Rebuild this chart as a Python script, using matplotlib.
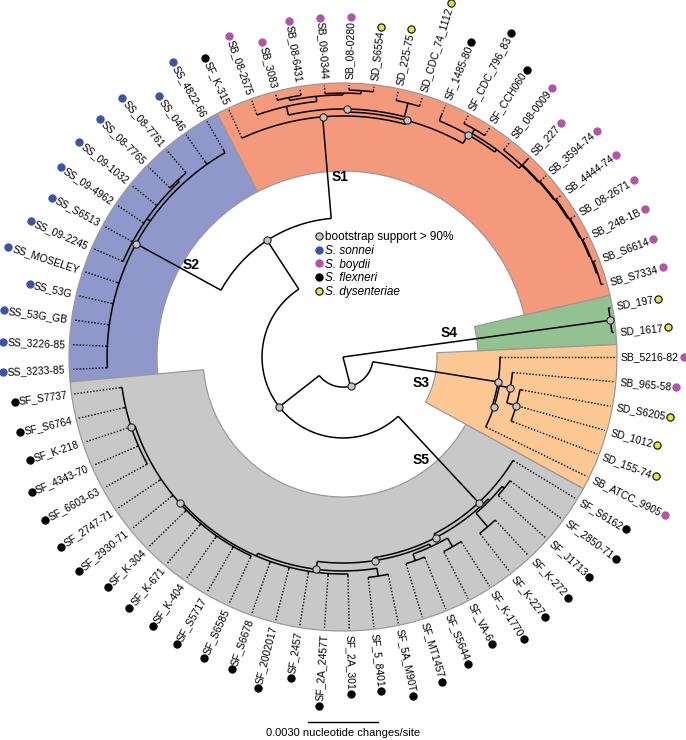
import numpy as np
import matplotlib.pyplot as plt
from matplotlib.patches import Wedge
from matplotlib.lines import Line2D

plt.rcParams['font.family'] = ['Liberation Sans', 'DejaVu Sans']

# tree in newick, branch lengths in 1e-4 nucleotide changes/site
# children are listed anticlockwise, '*' = bootstrap support > 90%
S4_TREE = "(SD_1617:0.6,SD_197:0.6)S4*"

S1_LOWER = ("(((((((((SB_S7334:0.4,SB_S6614:0.4):0.5,SB_248-1B:0.4):0.4,SB_08-2671:0.4):0.4,"
            "SB_4444-74:0.4):0.5,SB_3594-74:0.4):0.4,SB_227:3.4):0.4,SB_08-0009:0.4):1.7,"
            "(SF_CCH060:0.4,SF_CDC_796_83:0.4):2.1):1.3,SF_1485-80:3.0)*:4.3")
S1_UPPER = ("((SD_CDC_74_1112:0.4,SD_225-75:0.4):6.0,((((SD_S6554:0.4,SB_08-0280:0.4):1.3,"
            "SB_09-0344:0.4):0.8,(SB_08-6431:0.4,SB_3083:0.4):1.3):2.2,SB_08-2675:0.4):3.8)*:1.3")
S1_TREE = "((" + S1_LOWER + "," + S1_UPPER + ")*:1.7,SF_K-315:0.4)S1*"

S2_TREE = ("(SS_4822-66:1.3,SS_046:1.3,((SS_08-7761:0.4,SS_08-7765:0.4):0.9,SS_09-1032:0.4,"
           "SS_09-4962:0.4,SS_S6513:0.4,SS_09-2245:0.4):1.7,SS_MOSELEY:0.9,SS_53G:0.6,"
           "SS_53G_GB:0.4,SS_3226-85:0.4,SS_3233-85:0.4)S2*")

S5_LEFT = ("(((SF_S7737:0.9,SF_S6764:0.9,SF_K-218:0.4,SF_4343-70:0.4,SF_6603-63:0.4)*:1.7,"
           "SF_2747-71:0.9,SF_2930-71:0.9,SF_K-304:0.9,SF_K-671:0.9,SF_K-404:0.9,SF_S5717:0.9,"
           "SF_S6585:0.9)*:0.9,SF_S6678:0.9,SF_2002017:0.9,SF_2457:0.9,SF_2A_2457T:0.9,"
           "SF_2A_301:0.9):1.3")
S5_TREE = ("((((" + S5_LEFT + ",(SF_5_8401:0.4,SF_5A_M90T:0.4):3.4)*:3.4,"
           "((SF_MT1457:0.4,SF_S5644:0.4):3.0,(SF_VA-6:0.4,SF_K-1770:0.4):4.3):1.3)*:1.3,"
           "((SF_K-227:0.4,SF_K-272:0.4):7.7,(SF_J1713:0.4,SF_2850-71:0.4):1.2):0.9)*:1.7,"
           "SF_S6162:0.4)S5*")

S3_TREE = ("((SB_ATCC_9905:0.4,((SD_155-74:0.9,SD_1012:0.9,SD_S6205:0.9)*:4.2,"
           "SB_965-58:0.4)*:4.8)*:0.8,SB_5216-82:0.4)S3*")

TREE = ("(" + S4_TREE + ":115.7,(((" + S1_TREE + ":43.7," + S2_TREE + ":41.5)*:24.9,"
        + S5_TREE + ":50.6)*:21.8," + S3_TREE + ":54.4)*:12.9);")

SPECIES_COLOR = {'SS': '#3b55a6', 'SB': '#b155a8', 'SF': '#000000', 'SD': '#e4e43a'}
CLADE_COLOR = {'S1': '#f4997b', 'S2': '#8f97cb', 'S3': '#fdc893', 'S4': '#92c292', 'S5': '#c8c8c8'}
LEGEND_LABELS = ['bootstrap support > 90%', 'S. sonnei', 'S. boydii', 'S. flexneri', 'S. dysenteriae']
SCALE = 30  # 0.0030 changes/site


def parse(s):
    pos = 0

    def node():
        nonlocal pos
        n = {'kids': [], 'len': 0.0}
        if s[pos] == '(':
            pos += 1
            n['kids'].append(node())
            while s[pos] == ',':
                pos += 1
                n['kids'].append(node())
            pos += 1
        start = pos
        while s[pos] not in ':,);':
            pos += 1
        n['name'] = s[start:pos]
        if s[pos] == ':':
            pos += 1
            start = pos
            while s[pos] not in ',);':
                pos += 1
            n['len'] = float(s[start:pos])
        return n
    return node()


root = parse(TREE)
leaves = []


def set_r(n, d):
    n['r'] = d + n['len']
    for c in n['kids']:
        set_r(c, n['r'])
    if not n['kids']:
        leaves.append(n)


set_r(root, 0)
step = 360 / len(leaves)
for i, lf in enumerate(leaves):
    lf['a'] = (i + 1) * step


def set_a(n):
    if n['kids']:
        for c in n['kids']:
            set_a(c)
        n['a'] = (n['kids'][0]['a'] + n['kids'][-1]['a']) / 2


set_a(root)

K = 30 / 70  # data units per pixel
TIP = 272 * K
R_OUT = 274 * K
R_LAB = 278 * K
CLADE_INNER = {'S1': 186 * K, 'S2': 186 * K, 'S3': 94 * K, 'S4': 135 * K, 'S5': 140 * K}
CLADE_LAB = {'S1': -12, 'S2': -8, 'S3': -13, 'S4': 9, 'S5': -13}


def pol(r, a):
    a = np.radians(a)
    return r * np.cos(a), r * np.sin(a)


fig = plt.figure(figsize=(6.86, 7.40), dpi=100)
ax = fig.add_axes([0, 0, 1, 1])
ax.set_xlim(-343 * K, 343 * K)
ax.set_ylim(-383 * K, 357 * K)
ax.axis('off')

clades = {}
parent = {}


def collect(n):
    nm = n['name'].strip('*')
    if nm in CLADE_COLOR:
        clades[nm] = n
    for c in n['kids']:
        parent[id(c)] = n
        collect(c)


collect(root)


def leaf_list(n):
    if not n['kids']:
        return [n]
    out = []
    for c in n['kids']:
        out += leaf_list(c)
    return out


# coloured clade sectors
for nm, n in clades.items():
    lv = leaf_list(n)
    a0 = lv[0]['a'] - step / 2
    a1 = lv[-1]['a'] + step / 2
    ax.add_patch(Wedge((0, 0), R_OUT, a0, a1, width=R_OUT - CLADE_INNER[nm],
                       facecolor=CLADE_COLOR[nm], edgecolor='#9a9a9a', lw=0.9, zorder=0))

boots = []


def draw(n):
    if not n['kids']:
        x0, y0 = pol(n['r'], n['a'])
        x1, y1 = pol(TIP, n['a'])
        ax.plot([x0, x1], [y0, y1], color='k', lw=1.0, ls=(0, (1, 1.3)), zorder=2)
        return
    a0, a1 = n['kids'][0]['a'], n['kids'][-1]['a']
    t = np.radians(np.linspace(a0, a1, 200))
    ax.plot(n['r'] * np.cos(t), n['r'] * np.sin(t), color='k', lw=1.1, zorder=2,
            solid_capstyle='butt')
    for c in n['kids']:
        x0, y0 = pol(n['r'], c['a'])
        x1, y1 = pol(c['r'], c['a'])
        ax.plot([x0, x1], [y0, y1], color='k', lw=1.1, zorder=2, solid_capstyle='butt')
        draw(c)
    if '*' in n['name']:
        boots.append(pol(n['r'], n['a']))


draw(root)
bx, by = zip(*boots)
ax.plot(bx, by, 'o', ms=5.2, mfc='#c4c4c4', mec='#222222', mew=0.8, zorder=4)

# clade names
for nm, n in clades.items():
    p = parent[id(n)]
    rm = p['r'] + 0.4 * (n['r'] - p['r'])
    x, y = pol(rm, n['a'])
    a = np.radians(n['a'] + 90)
    off = CLADE_LAB[nm] * K
    ax.text(x + off * np.cos(a), y + off * np.sin(a), nm, fontsize=10, fontweight='bold',
            ha='center', va='center', zorder=5)

# tip labels
texts = []
for lf in leaves:
    a = lf['a'] % 360
    x, y = pol(R_LAB, a)
    if a <= 90 or a >= 270:
        rot = a if a <= 90 else a - 360
        ha = 'left'
    else:
        rot = a - 180
        ha = 'right'
    texts.append(ax.text(x, y, lf['name'], fontsize=7.5, rotation=rot, ha=ha, va='center',
                         rotation_mode='anchor', zorder=5))

fig.canvas.draw()
rend = fig.canvas.get_renderer()
for lf, t in zip(leaves, texts):
    w, h, d = rend.get_text_width_height_descent(t.get_text(), t.get_fontproperties(), ismath=False)
    x, y = pol(R_LAB + (w + 4.5) * K, lf['a'])
    col = SPECIES_COLOR[lf['name'][:2]]
    ax.plot(x, y, 'o', ms=5.2, mfc=col, mec='k' if lf['name'][:2] == 'SD' else col,
            mew=0.8, zorder=5)

# legend
handles = [Line2D([], [], ls='', marker='o', ms=5.2, mfc='#c4c4c4', mec='#222222', mew=0.8)]
for sp in ['SS', 'SB', 'SF', 'SD']:
    handles.append(Line2D([], [], ls='', marker='o', ms=5.2, mfc=SPECIES_COLOR[sp],
                          mec='k' if sp == 'SD' else SPECIES_COLOR[sp], mew=0.8))
leg = ax.legend(handles, LEGEND_LABELS, loc='upper left', bbox_to_anchor=(315 / 686, 1 - 231 / 740),
                frameon=False, fontsize=8.5, handlelength=0.6, handletextpad=0.25,
                labelspacing=0.15, borderpad=0, borderaxespad=0)
for t in leg.get_texts()[1:]:
    t.set_fontstyle('italic')

# scale bar
tr = ax.get_xaxis_transform()
ax.plot([-SCALE / 2, SCALE / 2], [1 - 722 / 740] * 2, color='k', lw=1.0, transform=tr)
ax.text(0, 1 - 733 / 740, '0.0030 nucleotide changes/site', fontsize=8, ha='center',
        va='center', transform=tr)

plt.savefig('out.png', dpi=100)
